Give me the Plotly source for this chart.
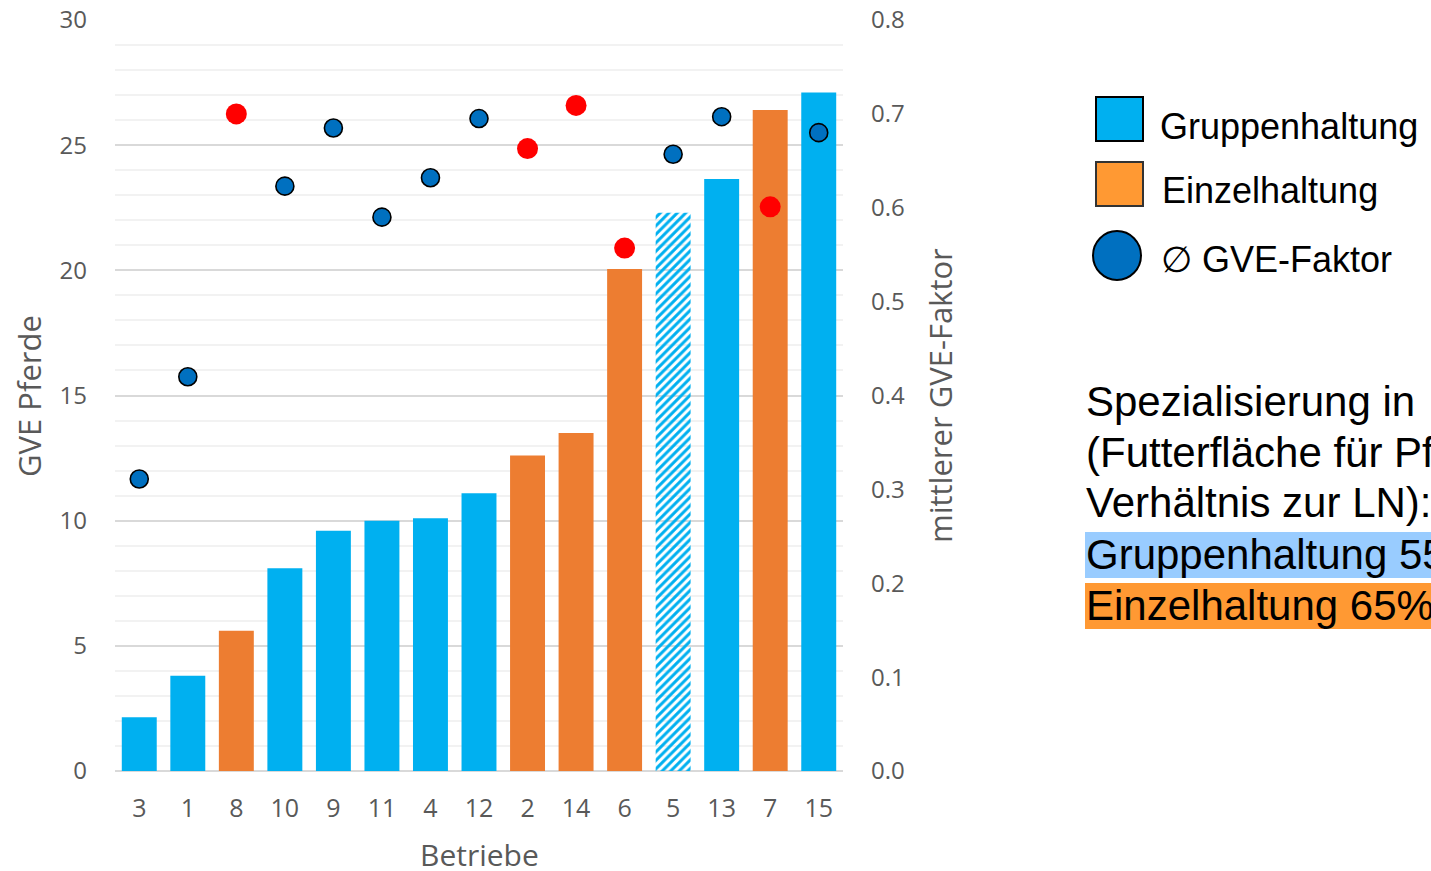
import plotly.graph_objects as go

# Farm data (sorted by horse livestock units)
betriebe = ["3", "1", "8", "10", "9", "11", "4", "12", "2", "14", "6", "5", "13", "7", "15"]
gve_pferde = [2.15, 3.8, 5.6, 8.1, 9.6, 10.0, 10.1, 11.1, 12.6, 13.5, 20.05, 22.3, 23.65, 26.4, 27.1]
haltung = ["G", "G", "E", "G", "G", "G", "G", "G", "E", "E", "E", "G*", "G", "E", "G"]
gve_faktor = [0.311, 0.420, 0.700, 0.623, 0.685, 0.590, 0.632, 0.695, 0.663, 0.709, 0.557, 0.657, 0.697, 0.601, 0.680]

left_ticks = [0, 5, 10, 15, 20, 25, 30]
right_ticks = [0.0, 0.1, 0.2, 0.3, 0.4, 0.5, 0.6, 0.7, 0.8]

legend_labels = ["Gruppenhaltung", "Einzelhaltung", "\u2205 GVE-Faktor"]
info_lines = ["Spezialisierung in", "(Futterfläche für Pf", "Verhältnis zur LN):",
              "Gruppenhaltung 55", "Einzelhaltung 65%"]

BLUE = "#00B0F0"
ORANGE = "#ED7D31"
DOT_BLUE = "#0070C0"
DOT_RED = "#FF0000"
GREY_TXT = "#595959"
FONT = "Open Sans"

W, H = 1431, 871
L, R, T, B = 115, 843, 20, 771  # plot area in pixels


def px(x):
    return (x - L) / (R - L)


def py(y):
    return (B - y) / (B - T)


bar_colors = [ORANGE if h == "E" else BLUE for h in haltung]
patterns = ["/" if h == "G*" else "" for h in haltung]
n = len(betriebe)

fig = go.Figure()
fig.add_trace(go.Bar(
    x=betriebe, y=gve_pferde,
    marker=dict(
        color=bar_colors,
        line=dict(width=0),
        pattern=dict(shape=patterns, fillmode="replace",
                     fgcolor=bar_colors, bgcolor=["white"] * n,
                     size=[6] * n, solidity=[0.5] * n),
    ),
    width=0.72, showlegend=False, hoverinfo="x+y",
))

dot_colors = [DOT_RED if h == "E" else DOT_BLUE for h in haltung]
dot_sizes = [21 if h == "E" else 18 for h in haltung]
dot_lw = [0 if h == "E" else 1.6 for h in haltung]
fig.add_trace(go.Scatter(
    x=betriebe, y=gve_faktor, yaxis="y2", mode="markers",
    marker=dict(color=dot_colors, size=dot_sizes, opacity=1,
                line=dict(color="black", width=dot_lw)),
    showlegend=False, hoverinfo="x+y",
))

fig.update_layout(
    width=W, height=H,
    margin=dict(l=L, r=W - R, t=T, b=H - B),
    paper_bgcolor="white", plot_bgcolor="white",
    font=dict(family=FONT, color=GREY_TXT, size=22),
    xaxis=dict(
        type="category", range=[-0.5, 14.5], automargin=False,
        showline=False, showgrid=False, ticks="",
        tickfont=dict(size=25, color=GREY_TXT), ticklabelstandoff=20,
    ),
    yaxis=dict(
        range=[0, 30], tickvals=left_ticks, automargin=False, showline=False, ticks="",
        gridcolor="#D9D9D9", gridwidth=1.5, zeroline=True, zerolinecolor="#D9D9D9", zerolinewidth=1.5,
        minor=dict(dtick=1, showgrid=True, gridcolor="#F2F2F2", gridwidth=1.5),
        tickfont=dict(size=24, color=GREY_TXT), ticklabelstandoff=27,
    ),
    yaxis2=dict(
        range=[0, 0.8], tickvals=right_ticks, tickformat=".1f", overlaying="y", side="right",
        automargin=False, showgrid=False, showline=False, zeroline=False, ticks="",
        tickfont=dict(size=24, color=GREY_TXT), ticklabelstandoff=27,
    ),
)

ann = []
# axis titles
TITLE = dict(size=31, color=GREY_TXT, family=FONT)
ann.append(dict(text="GVE Pferde", x=px(29), y=py(396), xref="paper", yref="paper",
                xanchor="center", yanchor="middle", textangle=-90, showarrow=False, font=TITLE))
ann.append(dict(text="mittlerer GVE-Faktor", x=px(940), y=py(396), xref="paper", yref="paper",
                xanchor="center", yanchor="middle", textangle=-90, showarrow=False, font=TITLE))
ann.append(dict(text="Betriebe", x=px(479), y=py(854), xref="paper", yref="paper",
                xanchor="center", yanchor="middle", showarrow=False,
                font=dict(size=30, color=GREY_TXT, family=FONT)))

shapes = []
# legend swatches
shapes.append(dict(type="rect", xref="paper", yref="paper", x0=px(1096), x1=px(1143), y0=py(141), y1=py(97),
                   fillcolor=BLUE, line=dict(color="black", width=2)))
shapes.append(dict(type="rect", xref="paper", yref="paper", x0=px(1096), x1=px(1143), y0=py(206), y1=py(162),
                   fillcolor="#FF9933", line=dict(color="#333333", width=2)))
shapes.append(dict(type="circle", xref="paper", yref="paper", x0=px(1093), x1=px(1141), y0=py(280), y1=py(231),
                   fillcolor=DOT_BLUE, line=dict(color="black", width=2)))

LEG = dict(size=36, color="black", family="Liberation Sans")
for label, ycen, xl in zip(legend_labels, [127, 190, 259], [1158, 1160, 1159]):
    ann.append(dict(text=label, x=px(xl), y=py(ycen), xref="paper", yref="paper",
                    xanchor="left", yanchor="middle", showarrow=False, font=LEG))

# specialisation text block with highlighted rows
shapes.append(dict(type="rect", xref="paper", yref="paper", x0=px(1085), x1=px(1431), y0=py(578), y1=py(532),
                   fillcolor="#99CCFF", line=dict(width=0), layer="below"))
shapes.append(dict(type="rect", xref="paper", yref="paper", x0=px(1085), x1=px(1431), y0=py(629), y1=py(583),
                   fillcolor="#FF9933", line=dict(width=0), layer="below"))
TXT = dict(size=42, color="black", family="Liberation Sans")
for i, line in enumerate(info_lines):
    ann.append(dict(text=line, x=px(1084), y=py(401 + 51 * i), xref="paper", yref="paper",
                    xanchor="left", yanchor="middle", showarrow=False, font=TXT))

fig.update_layout(annotations=ann, shapes=shapes)
fig.write_html("out.html")
